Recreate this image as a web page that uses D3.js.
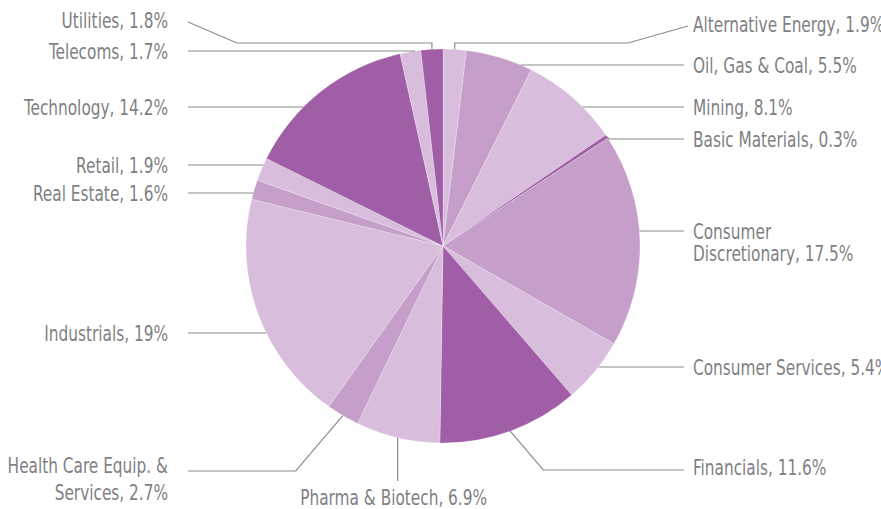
<!DOCTYPE html>
<html lang="en">
<head>
  <meta charset="UTF-8">
  <title>Sector weights</title>
  <style>
    body { margin: 0; background: #fff; overflow: hidden; }
    .label { font-family: "DejaVu Sans Condensed", "DejaVu Sans", sans-serif; font-stretch: condensed; font-size: 22px; fill: #7f7f84; }
    .leader { fill: none; stroke: #8c8c8c; stroke-width: 1.2; }
  </style>
</head>
<body>
<script src="https://d3js.org/d3.v7.min.js"></script>
<script>
// sectors, clockwise from 12 o'clock
const sectors = [
  "Alternative Energy", "Oil, Gas & Coal", "Mining", "Basic Materials",
  "Consumer Discretionary", "Consumer Services", "Financials", "Pharma & Biotech",
  "Health Care Equip. & Services", "Industrials", "Real Estate", "Retail",
  "Technology", "Telecoms", "Utilities"
];
const shares = [1.9, 5.5, 8.1, 0.3, 17.5, 5.4, 11.6, 6.9, 2.7, 19, 1.6, 1.9, 14.2, 1.7, 1.8];

// three purple tones
const LIGHT = "#d8bddc", MID = "#c59fca", DARK = "#a05ea6";
const sliceColors = [LIGHT, MID, LIGHT, DARK, MID, LIGHT, DARK, LIGHT, MID, LIGHT, MID, LIGHT, DARK, LIGHT, DARK];

// label layout: vertical position of each label, and how the leader is drawn
const labelY = [24, 65, 107, 139, 231, 367, 467, 497, 465, 333, 193, 165, 107, 51, 20];
const leaderY = { 6: 470, 8: 471 };
const labelKind = ["top", "side", "side", "side", "side", "side", "side", "bottom",
                   "side", "side", "side", "side", "side", "side", "top"];
// where long labels wrap
const wrapAt = { "Consumer Discretionary": ["Consumer", "Discretionary"],
                 "Health Care Equip. & Services": ["Health Care Equip. &", "Services"] };
const lineGap = { "Consumer Discretionary": 22, "Health Care Equip. & Services": 27 };

const width = 881, height = 509;
const cx = 443, cy = 246, R = 197;
const rightText = 693, leftText = 168;
const rightLineEnd = 684, leftLineStart = 188;
const topElbowY = 43;
const squeeze = 0.775; // the original face is a narrow condensed grotesque

const data = sectors.map((name, i) => ({ name, value: shares[i], i }));

const svg = d3.select("body").append("svg")
  .attr("width", width)
  .attr("height", height);

const pie = d3.pie().sort(null).value(d => d.value);
const arc = d3.arc().innerRadius(0).outerRadius(R);
const arcs = pie(data);

const g = svg.append("g").attr("transform", `translate(${cx},${cy})`);

g.selectAll("path")
  .data(arcs)
  .enter().append("path")
    .attr("d", arc)
    .attr("fill", d => sliceColors[d.index])
    .attr("stroke", "#ffffff")
    .attr("stroke-width", 0.4)
    .attr("stroke-opacity", 0.6);

// point on the rim at a d3 angle (0 = top, clockwise)
function rim(a, r = R) {
  return [cx + r * Math.sin(a), cy - r * Math.cos(a)];
}

function leaderPoints(d) {
  const y = leaderY[d.index] || labelY[d.index];
  const kind = labelKind[d.index];
  const mid = (d.startAngle + d.endAngle) / 2;
  const right = mid < Math.PI;
  const p = rim(mid);

  if (kind === "bottom") {
    return [p, [p[0], y - 16]];
  }
  if (kind === "top") {
    const endX = right ? rightLineEnd + 4 : leftLineStart;
    const bendX = right ? endX - 60 : endX + 49;
    return [p, [p[0], topElbowY], [bendX, topElbowY], [endX, y + 2]];
  }
  const endX = right ? rightLineEnd : leftLineStart;
  const dy = y - cy;
  if (Math.abs(dy) < R) {
    const dx = Math.sqrt(R * R - dy * dy) * (right ? 1 : -1);
    let a = Math.atan2(dx, -dy);
    if (a < 0) a += 2 * Math.PI;
    if (a >= d.startAngle && a <= d.endAngle) {
      return [[cx + dx, y], [endX, y]];
    }
  }
  const elbowX = p[0] + (right ? 1 : -1) * Math.abs(y - p[1]) * 0.85;
  return [p, [elbowX, y], [endX, y]];
}

const line = d3.line();

svg.append("g")
  .selectAll("path")
  .data(arcs)
  .enter().append("path")
    .attr("class", "leader")
    .attr("d", d => line(leaderPoints(d)));

// labels
const labels = svg.append("g")
  .selectAll("text")
  .data(arcs)
  .enter().append("text")
    .attr("class", "label")
    .each(function(d) {
      const name = d.data.name;
      const kind = labelKind[d.index];
      const mid = (d.startAngle + d.endAngle) / 2;
      const right = mid < Math.PI;
      const parts = (wrapAt[name] || [name]).slice();
      parts[parts.length - 1] += `, ${d.data.value}%`;
      let x, anchor;
      if (kind === "bottom") {
        x = rim(mid)[0] - 4;
        anchor = "middle";
      } else {
        x = right ? rightText : leftText;
        anchor = right ? "start" : "end";
      }
      const t = d3.select(this)
        .attr("text-anchor", anchor)
        .attr("transform", `translate(${x},0) scale(${squeeze},1)`);
      parts.forEach((s, k) => {
        t.append("tspan")
          .attr("x", 0)
          .attr("y", labelY[d.index] + k * (lineGap[name] || 0))
          .attr("dy", "0.36em")
          .text(s);
      });
    });
</script>
</body>
</html>
